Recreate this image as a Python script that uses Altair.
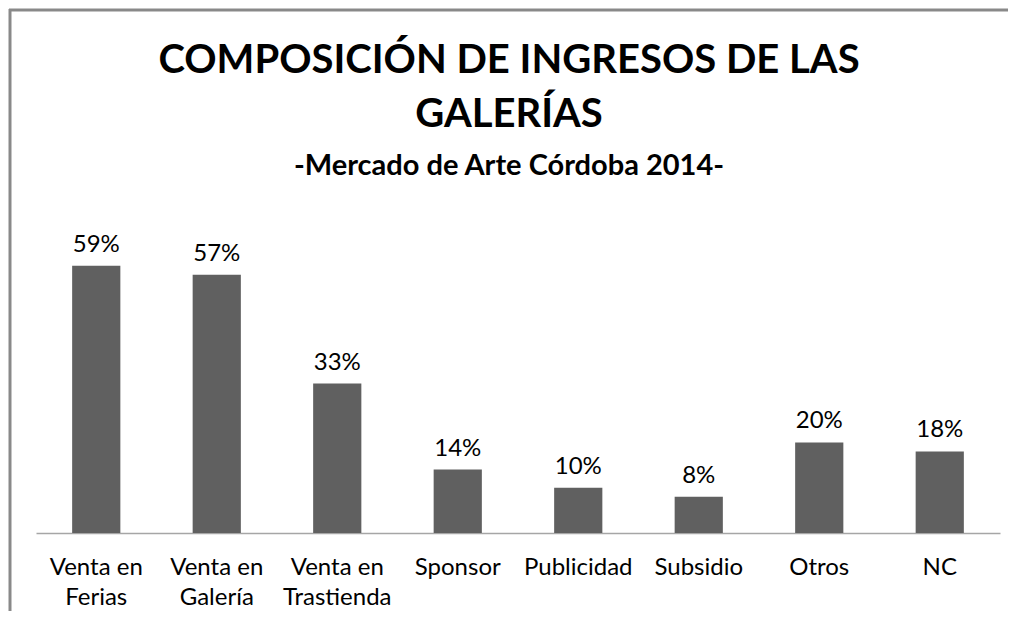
import altair as alt
import pandas as pd

categories = ["Venta en\nFerias", "Venta en\nGalería", "Venta en\nTrastienda", "Sponsor",
              "Publicidad", "Subsidio", "Otros", "NC"]
values = [0.59, 0.57, 0.33, 0.14, 0.10, 0.08, 0.20, 0.18]
labels = ["59%", "57%", "33%", "14%", "10%", "8%", "20%", "18%"]

title_line1 = "COMPOSICIÓN DE INGRESOS DE LAS"
title_line2 = "GALERÍAS"
subtitle = "-Mercado de Arte Córdoba 2014-"

df = pd.DataFrame({"cat": categories, "value": values, "label": labels})

FONT = "Lato"
W, H = 964, 317

x = alt.X("cat:N", sort=categories, title=None,
          scale=alt.Scale(paddingInner=0.6, paddingOuter=0.3),
          axis=alt.Axis(labelExpr="split(datum.label, '\\n')", labelAngle=0,
                        labelFont=FONT, labelFontSize=24, labelColor="#000000",
                        labelLineHeight=30, labelPadding=22, ticks=False,
                        domainColor="#a6a6a6", domainWidth=1.5, labelLimit=200))
y = alt.Y("value:Q", scale=alt.Scale(domain=[0, 0.7]), axis=None)

base = alt.Chart(df)
bars = base.mark_bar(color="#606060").encode(x=x, y=y)
text = base.mark_text(font=FONT, fontSize=24, baseline="alphabetic", dy=-14, color="#000000").encode(
    x=alt.X("cat:N", sort=categories), y="value:Q", text="label:N")

one = pd.DataFrame({"a": [0]})
t1 = alt.Chart(one).mark_text(text=title_line1, font=FONT, fontWeight="bold", fontSize=40,
                              baseline="alphabetic", align="center").encode(
    x=alt.value(473), y=alt.value(-143))
t2 = alt.Chart(one).mark_text(text=title_line2, font=FONT, fontWeight="bold", fontSize=40,
                              baseline="alphabetic", align="center").encode(
    x=alt.value(473), y=alt.value(-89))
t3 = alt.Chart(one).mark_text(text=subtitle, font=FONT, fontWeight="bold", fontSize=29,
                              baseline="alphabetic", align="center").encode(
    x=alt.value(473), y=alt.value(-41))

border_top = alt.Chart(one).mark_rule(color="#898989", strokeWidth=3).encode(
    x=alt.value(-27), x2=alt.value(972), y=alt.value(-206))
border_left = alt.Chart(one).mark_rule(color="#898989", strokeWidth=3).encode(
    x=alt.value(-26), y=alt.value(-207), y2=alt.value(395))

chart = alt.layer(border_top, border_left, bars, text, t1, t2, t3).properties(
    width=W, height=H,
    autosize=alt.AutoSizeParams(type="none"),
    padding={"left": 28, "top": 208, "right": 10, "bottom": 80},
).configure(background="#ffffff").configure_view(stroke=None, strokeWidth=0)

chart.save("out.html", embed_options={"renderer": "svg", "actions": False})
